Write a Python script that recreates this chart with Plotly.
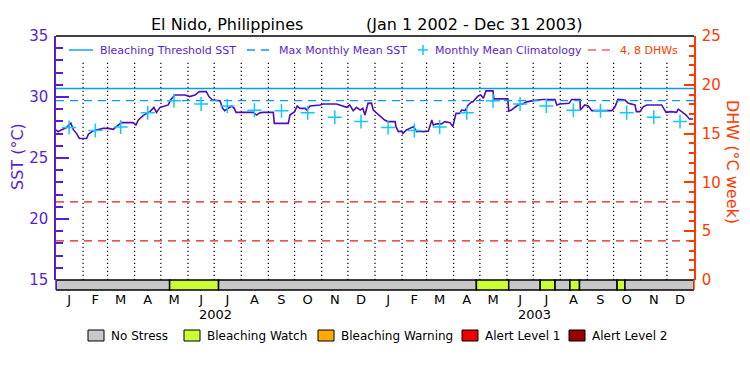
import pandas as pd
import plotly.graph_objects as go

# ---------------- data ----------------
start_date = "2002-01-01"
end_date = "2004-01-01"

sst_day = [0, 2.6, 6, 12, 17, 20, 23.6, 26.7, 35, 37, 42.7, 48, 54, 60, 65.6, 69, 75, 88, 91.5, 94,
           100, 107.5, 112, 115, 119, 128.5, 131, 136, 147.6, 153, 159, 164, 172, 175, 179, 187.6,
           190.7, 193, 197, 201, 204, 206, 225.7, 229.6, 233, 237, 248.6, 249.8, 265.8, 267.7, 273,
           276, 279, 285, 287, 290.6, 302, 306, 321, 325, 332.6, 336, 340, 344, 348, 351, 353.5, 357,
           361, 363, 367, 370.7, 376, 380, 388, 389, 391.7, 395.5, 397, 401, 405, 409, 412.7, 416, 420,
           426, 430, 431.7, 435.6, 441, 445, 450.8, 454, 457.7, 462, 464, 468, 471.7, 475.6, 477, 480.5,
           483, 486, 489, 492, 500, 501, 517, 518, 521, 527, 531, 534, 538.5, 546, 557, 571, 573, 576.6,
           587, 590, 599.5, 600, 605, 609, 613, 636, 639.6, 643, 651, 655, 662.5, 664, 668, 672, 676,
           693, 698, 704, 710, 712, 717.6, 721, 724.7, 729]
sst_val = [27.3, 27.15, 27.3, 27.5, 27.85, 27.3, 27.0, 26.6, 26.6, 26.94, 27.24, 27.35, 27.43, 27.43,
           27.35, 27.57, 27.9, 27.9, 27.7, 28.1, 28.5, 28.8, 29.15, 28.74, 29.15, 29.35, 29.75, 30.16,
           30.16, 30.03, 30.16, 30.44, 30.44, 30.03, 29.75, 29.7, 29.07, 28.88, 29.07, 29.26, 29.07,
           28.74, 28.74, 28.52, 28.7, 28.74, 28.74, 27.84, 27.84, 28.52, 28.8, 29.26, 29.07, 29.07,
           28.93, 29.26, 29.35, 29.43, 29.43, 29.35, 29.15, 29.35, 28.88, 29.15, 28.93, 29.07, 28.52,
           29.48, 29.5, 28.93, 28.66, 28.39, 28.11, 27.98, 27.98, 27.57, 27.16, 27.2, 27.02, 27.3, 27.43,
           27.57, 27.16, 27.2, 27.16, 27.2, 28.11, 27.71, 27.8, 27.8, 27.98, 27.9, 27.57, 28.66, 28.66,
           28.93, 28.88, 29.35, 29.6, 29.6, 29.89, 30.08, 30.16, 29.9, 30.5, 30.5, 29.85, 29.85, 28.85,
           28.93, 29.26, 29.43, 29.43, 29.6, 29.7, 29.8, 29.8, 29.35, 29.43, 29.48, 29.8, 29.8, 28.93,
           29.35, 29.26, 28.88, 28.88, 29.2, 29.8, 29.75, 29.48, 29.35, 28.8, 28.8, 29.2, 29.35, 29.35,
           28.74, 28.8, 28.74, 29.0, 28.66, 28.52, 28.2, 28.2]

clim_months = ["2002-01-16", "2002-02-15", "2002-03-16", "2002-04-16", "2002-05-16", "2002-06-16",
               "2002-07-16", "2002-08-16", "2002-09-16", "2002-10-16", "2002-11-16", "2002-12-16",
               "2003-01-16", "2003-02-15", "2003-03-16", "2003-04-16", "2003-05-16", "2003-06-16",
               "2003-07-16", "2003-08-16", "2003-09-16", "2003-10-16", "2003-11-16", "2003-12-16"]
clim_val = [27.5, 27.25, 27.55, 28.7, 29.7, 29.42, 29.27, 28.92, 28.88, 28.7, 28.33, 28.0,
            27.5, 27.25, 27.55, 28.7, 29.7, 29.42, 29.27, 28.92, 28.88, 28.7, 28.33, 28.0]

bleaching_threshold = 30.7
max_monthly_mean = 29.7
dhw_levels = [4, 8]

month_letters = ["J", "F", "M", "A", "M", "J", "J", "A", "S", "O", "N", "D"] * 2
month_starts = pd.date_range("2002-02-01", "2003-12-01", freq="MS")
years = ["2002", "2003"]
year_mid = ["2002-07-02", "2003-07-02"]

status_start = ["2002-01-01", "2002-05-11", "2002-07-06", "2003-04-27", "2003-06-03", "2003-07-09",
                "2003-07-26", "2003-08-12", "2003-08-23", "2003-10-05", "2003-10-14"]
status_end = ["2002-05-11", "2002-07-06", "2003-04-27", "2003-06-03", "2003-07-09", "2003-07-26",
              "2003-08-12", "2003-08-23", "2003-10-05", "2003-10-14", "2004-01-01"]
status_level = [0, 1, 0, 1, 0, 1, 0, 1, 0, 1, 0]

status_names = ["No Stress", "Bleaching Watch", "Bleaching Warning", "Alert Level 1", "Alert Level 2"]
status_colors = ["#c8c8c8", "#ccff33", "#ffaa00", "#ee0000", "#990000"]

# ---------------- styling ----------------
PURPLE = "#5a1ed2"
LINE_PURPLE = "#4c10b8"
LBLUE = "#0a9af5"
CYAN = "#10c8ff"
ORANGE = "#ff3a00"
RED = "#e41a1a"
FONT = "DejaVu Sans"

PAGE_OFF = 8          # default body margin of the html page
W, H = 750, 375
L, R, T, B = 56, 694, 36, 290  # plot area in page px
PH = B - T
bar_h = 10


def px_x(x):
    return (x - L) / (R - L)


def px_y(y):
    return (B - y) / PH


t0 = pd.Timestamp(start_date)
sst_dates = [t0 + pd.Timedelta(days=d) for d in sst_day]

fig = go.Figure()

fig.add_trace(go.Scatter(x=sst_dates, y=sst_val, mode="lines",
                         line=dict(color=LINE_PURPLE, width=1.6), showlegend=False))
fig.add_trace(go.Scatter(x=[start_date, end_date], y=[bleaching_threshold] * 2, mode="lines",
                         line=dict(color=LBLUE, width=1.4), showlegend=False))
fig.add_trace(go.Scatter(x=[start_date, end_date], y=[max_monthly_mean] * 2, mode="lines",
                         line=dict(color=LBLUE, width=1.4, dash="8px,6px"), showlegend=False))
fig.add_trace(go.Scatter(x=clim_months, y=clim_val, mode="markers",
                         marker=dict(symbol="cross-thin", size=10, line=dict(color=CYAN, width=1.5)),
                         showlegend=False))
for lev in dhw_levels:
    fig.add_trace(go.Scatter(x=[start_date, end_date], y=[lev, lev], mode="lines", yaxis="y2",
                             line=dict(color=RED, width=1.2, dash="8px,6px"), showlegend=False))

shapes = []
# dotted month lines
for m in month_starts:
    shapes.append(dict(type="line", xref="x", yref="y", x0=m, x1=m, y0=15, y1=32.8,
                       line=dict(color="black", width=1.2, dash="1.2px,2.8px"), layer="below"))
# status bar
for s, e, lv in zip(status_start, status_end, status_level):
    shapes.append(dict(type="rect", xref="x", yref="paper", x0=s, x1=e, y0=0, y1=bar_h / PH,
                       fillcolor=status_colors[lv], line=dict(color="black", width=1.5)))
# axis extensions and top border
shapes.append(dict(type="line", xref="paper", yref="paper", x0=0, x1=1, y0=1, y1=1,
                   line=dict(color="black", width=1.5)))
shapes.append(dict(type="line", xref="paper", yref="paper", x0=0, x1=0, y0=0, y1=bar_h / PH,
                   line=dict(color=PURPLE, width=1.5)))
shapes.append(dict(type="line", xref="paper", yref="paper", x0=1, x1=1, y0=0, y1=bar_h / PH,
                   line=dict(color=ORANGE, width=1.5)))

annotations = []
# title
annotations.append(dict(text="El Nido, Philippines", x=px_x(227), y=px_y(24), xref="paper", yref="paper",
                        showarrow=False, xanchor="center", yanchor="middle",
                        font=dict(family=FONT, size=16, color="black")))
annotations.append(dict(text="(Jan 1 2002 - Dec 31 2003)", x=px_x(474), y=px_y(24), xref="paper",
                        yref="paper", showarrow=False, xanchor="center", yanchor="middle",
                        font=dict(family=FONT, size=16, color="black")))
# axis titles
annotations.append(dict(text="SST (\u00b0C)", x=px_x(17), y=px_y(157), xref="paper", yref="paper",
                        showarrow=False, textangle=-90, xanchor="center", yanchor="middle",
                        font=dict(family=FONT, size=16, color=PURPLE)))
annotations.append(dict(text="DHW (\u00b0C week)", x=px_x(733), y=px_y(162), xref="paper", yref="paper",
                        showarrow=False, textangle=90, xanchor="center", yanchor="middle",
                        font=dict(family=FONT, size=16, color=ORANGE)))
# year labels
for yl, ym in zip(years, year_mid):
    annotations.append(dict(text=yl, x=ym, y=px_y(314), xref="x", yref="paper", showarrow=False,
                            xanchor="center", yanchor="middle",
                            font=dict(family=FONT, size=13, color="black")))

# top legend
ly = 50
shapes.append(dict(type="line", xref="paper", yref="paper", x0=px_x(69), x1=px_x(93), y0=px_y(ly),
                   y1=px_y(ly), line=dict(color=LBLUE, width=1.4)))
shapes.append(dict(type="line", xref="paper", yref="paper", x0=px_x(247), x1=px_x(271), y0=px_y(ly),
                   y1=px_y(ly), line=dict(color=LBLUE, width=1.4, dash="8px,6px")))
shapes.append(dict(type="line", xref="paper", yref="paper", x0=px_x(418), x1=px_x(428), y0=px_y(ly),
                   y1=px_y(ly), line=dict(color=CYAN, width=1.5)))
shapes.append(dict(type="line", xref="paper", yref="paper", x0=px_x(423), x1=px_x(423), y0=px_y(ly - 5),
                   y1=px_y(ly + 5), line=dict(color=CYAN, width=1.5)))
shapes.append(dict(type="line", xref="paper", yref="paper", x0=px_x(588), x1=px_x(612), y0=px_y(ly),
                   y1=px_y(ly), line=dict(color=RED, width=1.2, dash="8px,6px")))
for txt, xx, col in [("Bleaching Threshold SST", 98, PURPLE), ("Max Monthly Mean SST", 277, PURPLE),
                     ("Monthly Mean Climatology", 433, PURPLE), ("4, 8 DHWs", 618, ORANGE)]:
    annotations.append(dict(text=txt, x=px_x(xx), y=px_y(ly), xref="paper", yref="paper",
                            showarrow=False, xanchor="left", yanchor="middle",
                            font=dict(family=FONT, size=11, color=col)))

# bottom legend
box_x = [88, 184, 318, 462, 569]
for bx, name, col in zip(box_x, status_names, status_colors):
    shapes.append(dict(type="rect", xref="paper", yref="paper", x0=px_x(bx), x1=px_x(bx + 16),
                       y0=px_y(341), y1=px_y(330), fillcolor=col, line=dict(color="black", width=1)))
    annotations.append(dict(text=name, x=px_x(bx + 21), y=px_y(336), xref="paper", yref="paper",
                            showarrow=False, xanchor="left", yanchor="middle",
                            font=dict(family=FONT, size=12, color="black")))

fig.update_layout(
    width=W - PAGE_OFF, height=H - PAGE_OFF,
    margin=dict(l=L - PAGE_OFF, r=W - R, t=T - PAGE_OFF, b=H - B, pad=0, autoexpand=False),
    plot_bgcolor="white", paper_bgcolor="white",
    showlegend=False,
    shapes=shapes, annotations=annotations,
    xaxis=dict(type="date", range=[start_date, end_date], anchor="free", position=0,
               showline=False, showgrid=False, zeroline=False, ticks="",
               tickvals=clim_months, ticktext=month_letters,
               tickfont=dict(family=FONT, size=13, color="black")),
    yaxis=dict(range=[15, 35], domain=[bar_h / PH, 1], dtick=5, tick0=15,
               ticks="inside", ticklen=13, tickwidth=1.5, tickcolor=PURPLE,
               minor=dict(ticks="inside", ticklen=7, dtick=1, tickcolor=PURPLE, tickwidth=1.5),
               showline=True, linecolor=PURPLE, linewidth=1.5, showgrid=False, zeroline=False,
               tickfont=dict(family=FONT, size=15, color=PURPLE), ticklabelstandoff=3),
    yaxis2=dict(range=[0, 25], overlaying="y", side="right", dtick=5, tick0=0,
                ticks="inside", ticklen=10, tickwidth=1.5, tickcolor=ORANGE,
                minor=dict(ticks="inside", ticklen=5, dtick=1, tickcolor=ORANGE, tickwidth=1.5),
                showline=True, linecolor=ORANGE, linewidth=1.5, showgrid=False, zeroline=False,
                tickfont=dict(family=FONT, size=15, color=ORANGE), ticklabelstandoff=3),
)

fig.write_html("out.html")
